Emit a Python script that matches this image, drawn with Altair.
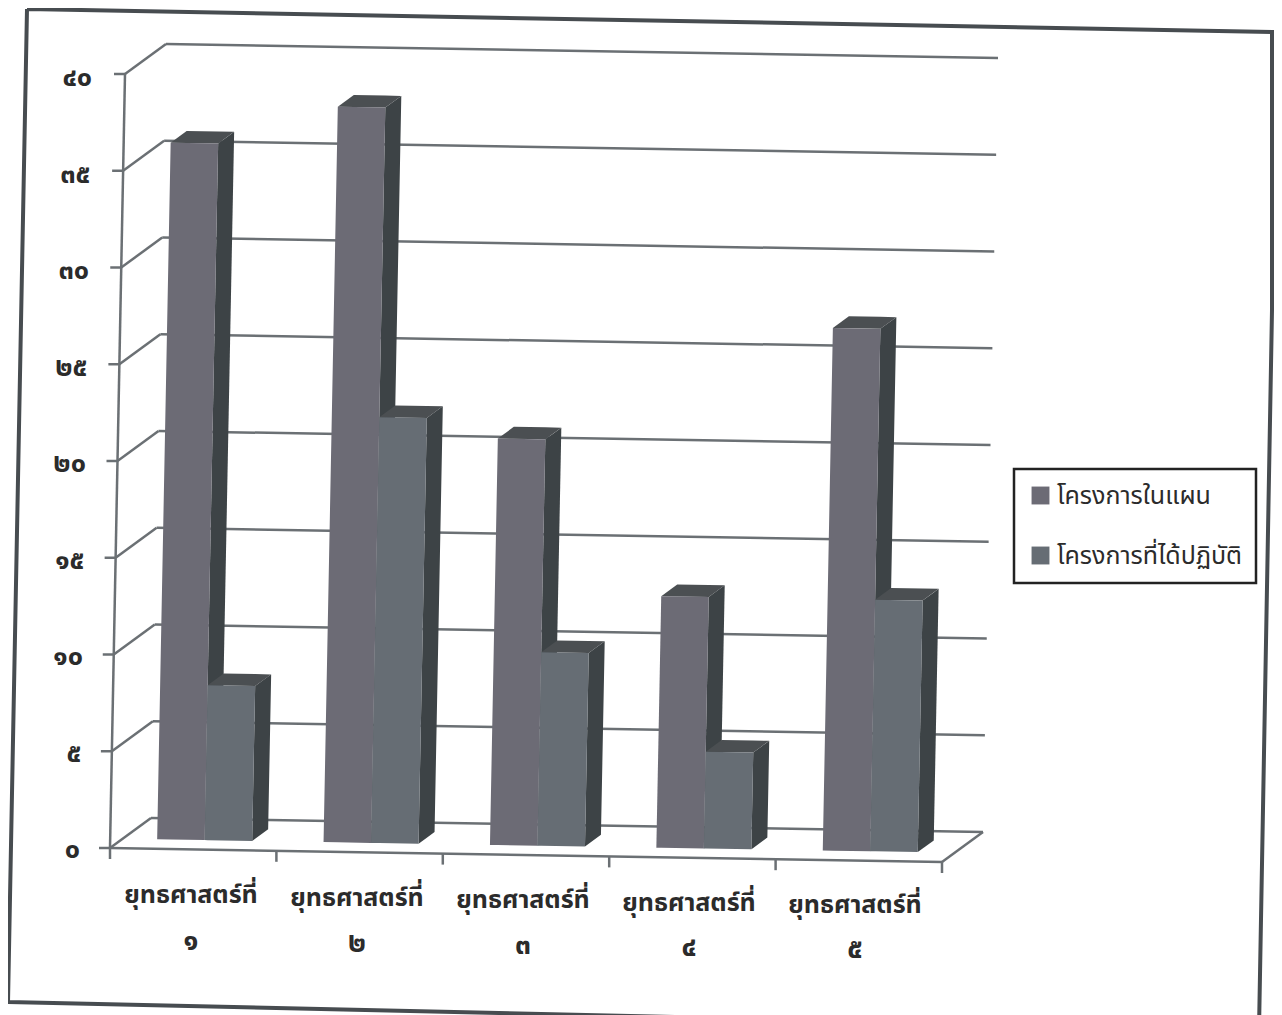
import numpy as np
import pandas as pd
import altair as alt

categories = ["ยุทธศาสตร์ที่", "ยุทธศาสตร์ที่", "ยุทธศาสตร์ที่", "ยุทธศาสตร์ที่", "ยุทธศาสตร์ที่"]
category_numbers = ["๑", "๒", "๓", "๔", "๕"]
series_names = ["โครงการในแผน", "โครงการที่ได้ปฏิบัติ"]
planned = [36, 38, 21, 13, 27]
done = [8, 22, 10, 5, 13]
tick_values = [0, 5, 10, 15, 20, 25, 30, 35, 40]
tick_labels = ["๐", "๕", "๑๐", "๑๕", "๒๐", "๒๕", "๓๐", "๓๕", "๔๐"]

W, H = 1266, 1030
FONT = "Noto Sans Thai, Noto Sans, Loma, Garuda, sans-serif"
C_PLAN, C_DONE = "#6c6b75", "#666d74"
C_SIDE, C_TOP = "#3d4346", "#4b4f52"
C_LINE = "#6b7074"
C_FRAME = "#474c50"
C_TEXT = "#2b2b2b"


def proj(c, v, d=0.0):
    """Oblique projection of category position, value and depth."""
    return (110 + 166.4 * c + 0.375 * v + 41 * d, 848 + 2.8 * c - 19.35 * v - 30 * d)


def face(points, **tags):
    """Convex polygon as rows of an area mark."""
    pts = np.array(points + [points[0]], dtype=float)
    rows = []
    for x in sorted(set(pts[:, 0])):
        ys = []
        for (x0, y0), (x1, y1) in zip(pts[:-1], pts[1:]):
            if min(x0, x1) <= x <= max(x0, x1):
                if x0 == x1:
                    ys += [y0, y1]
                else:
                    ys.append(y0 + (y1 - y0) * (x - x0) / (x1 - x0))
        rows.append(dict(x=x, y=min(ys), y2=max(ys), **tags))
    return rows


BAR_W, C0, D0, D1 = 0.2855, 0.207, 0.31, 0.70
faces = {(s, f): [] for s in series_names for f in ("front", "side", "top")}
for i in range(5):
    for k, (name, vals) in enumerate(zip(series_names, (planned, done))):
        a, b, v = i + C0 + k * BAR_W, i + C0 + (k + 1) * BAR_W, vals[i]
        faces[name, "front"] += face([proj(a, 0, D0), proj(b, 0, D0), proj(b, v, D0), proj(a, v, D0)], bar=i, series=name)
        faces[name, "side"] += face([proj(b, 0, D0), proj(b, 0, D1), proj(b, v, D1), proj(b, v, D0)], bar=i, series=name)
        faces[name, "top"] += face([proj(a, v, D0), proj(b, v, D0), proj(b, v, D1), proj(a, v, D1)], bar=i, series=name)

# line segments of the chart walls and floor
segs = []
def seg(p, q):
    n = len(segs)
    segs.extend([dict(x=p[0], y=p[1], id=n), dict(x=q[0], y=q[1], id=n)])
for v in tick_values:
    seg(proj(0, v, 0), proj(0, v, 1))
    seg(proj(0, v, 1), proj(5, v, 1))
    seg((proj(0, v, 0)[0] - 11, proj(0, v, 0)[1]), proj(0, v, 0))
seg(proj(0, 0, 0), proj(0, 40, 0))
seg(proj(0, 0, 0), proj(5, 0, 0))
seg(proj(5, 0, 0), proj(5, 0, 1))
for c in range(6):
    x, y = proj(c, 0, 0)
    seg((x, y), (x, y + 11))

frame_corners = [(27, 9), (1272, 32), (1272, 310), (1259, 1030), (8, 1002), (27, 9)]
frame = pd.DataFrame([dict(x=x, y=y, o=i) for i, (x, y) in enumerate(frame_corners)])

xs = alt.X("x:Q", scale=alt.Scale(domain=[8, 8 + W], range=[0, W]), axis=None)
ys = alt.Y("y:Q", scale=alt.Scale(domain=[8 + H, 8], range=[H, 0], zero=False), axis=None)
y2s = alt.Y2("y2:Q")

layers = [
    alt.Chart(frame).mark_line(color=C_FRAME, strokeWidth=4).encode(xs, ys, order="o:Q"),
    alt.Chart(pd.DataFrame(segs)).mark_line(color=C_LINE, strokeWidth=2.5).encode(xs, ys, detail="id:N"),
]
color = alt.Color(
    "series:N",
    scale=alt.Scale(domain=series_names, range=[C_PLAN, C_DONE]),
    legend=alt.Legend(
        title=None, orient="none", legendX=1006, legendY=461, padding=14, rowPadding=34,
        symbolType="square", symbolSize=320, symbolStrokeWidth=0, labelFontSize=25,
        labelFont=FONT, labelColor=C_TEXT, strokeColor="#222222", fillColor="#ffffff",
        labelLimit=300, labelOffset=4,
    ),
)
for name in series_names:
    layers.append(alt.Chart(pd.DataFrame(faces[name, "side"])).mark_area(color=C_SIDE, interpolate="linear").encode(xs, ys, y2s, detail="bar:N"))
    layers.append(alt.Chart(pd.DataFrame(faces[name, "top"])).mark_area(color=C_TOP, interpolate="linear").encode(xs, ys, y2s, detail="bar:N"))
    layers.append(alt.Chart(pd.DataFrame(faces[name, "front"])).mark_area(interpolate="linear").encode(xs, ys, y2s, color, detail="bar:N"))

tick_df = pd.DataFrame({"label": tick_labels, "x": [80 + 0.3 * v for v in tick_values],
                        "y": [850 - 19.3 * v for v in tick_values]})
layers.append(alt.Chart(tick_df).mark_text(align="right", baseline="middle", fontSize=27, fontWeight="bold",
                                           font=FONT, color=C_TEXT).encode(xs, ys, text="label:N"))
cat_df = pd.DataFrame({"label": categories, "x": [191 + 166 * i for i in range(5)],
                       "y": [895 + 2.6 * i for i in range(5)]})
num_df = pd.DataFrame({"label": category_numbers, "x": [191 + 166 * i for i in range(5)],
                       "y": [942 + 2 * i for i in range(5)]})
for df, size in ((cat_df, 25), (num_df, 28)):
    layers.append(alt.Chart(df).mark_text(align="center", baseline="middle", fontSize=size, fontWeight="bold",
                                          font=FONT, color=C_TEXT).encode(xs, ys, text="label:N"))

chart = alt.layer(*layers).resolve_scale(color="shared").properties(
    width=W, height=H, padding=0, autosize=alt.AutoSizeParams(type="none"),
    background="#ffffff",
).configure_view(stroke=None).configure_legend(strokeWidth=2.5)

chart.save("out.html", embed_options={"renderer": "svg", "actions": False})
